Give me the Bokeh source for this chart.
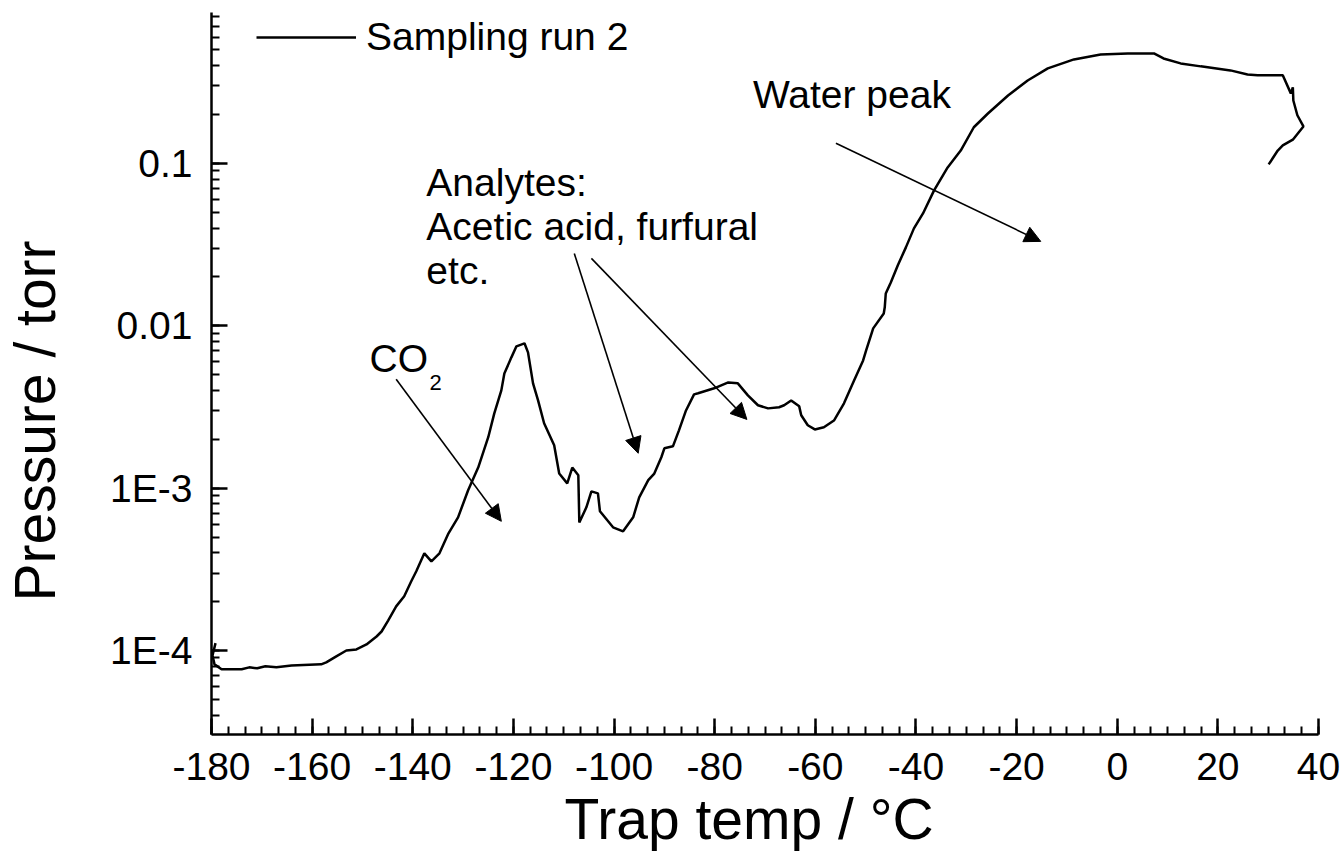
from bokeh.plotting import figure
from bokeh.models import (Range1d, LogTicker, SingleIntervalTicker, CustomJSTickFormatter,
                          Label, Arrow, NormalHead, Legend, LegendItem)
from bokeh.embed import file_html
from bokeh.resources import INLINE

# ---- data ----
temp = [-179.2, -179.8, -179.4, -178.0, -174.0, -172.5, -170.9, -169.3, -167.1, -164.1,
        -158.2, -157.2, -155.2, -153.2, -151.2, -149.2, -147.2, -146.2, -144.9, -143.3,
        -141.7, -140.3, -139.3, -137.7, -136.3, -134.7, -132.9, -131.0, -129.0, -127.0,
        -125.0, -123.8, -122.4, -121.8, -120.4, -119.4, -117.8, -117.1, -116.1, -115.1,
        -113.9, -111.9, -110.9, -109.3, -108.3, -107.1, -106.9, -105.5, -104.5, -103.2,
        -102.8, -100.2, -98.2, -96.2, -95.0, -93.2, -92.0, -90.6, -90.0, -88.3,
        -87.1, -85.7, -84.1, -83.3, -80.1, -77.3, -75.4, -73.4, -71.4, -69.4,
        -67.2, -66.2, -64.8, -63.2, -62.8, -61.5, -60.1, -58.3, -56.3, -54.3,
        -52.3, -50.5, -49.9, -48.5, -46.4, -46.2, -46.0, -45.0, -43.6, -42.0,
        -40.4, -38.6, -36.4, -33.7, -31.1, -28.5, -25.7, -21.7, -17.8, -13.8,
        -8.6, -3.3, 2.1, 7.3, 9.2, 12.6, 16.6, 22.5, 25.9, 27.9,
        32.9, 34.5, 34.9, 35.0, 35.8, 37.0, 34.9, 32.9, 31.9, 30.1]

pressure = [1.11e-4, 9.33e-5, 8.22e-5, 7.66e-5, 7.66e-5, 7.88e-5, 7.77e-5, 8.0e-5, 7.88e-5, 8.1e-5,
            8.22e-5, 8.46e-5, 9.21e-5, 1.0e-4, 1.016e-4, 1.09e-4, 1.22e-4, 1.31e-4, 1.53e-4, 1.87e-4,
            2.16e-4, 2.67e-4, 3.08e-4, 3.97e-4, 3.54e-4, 3.97e-4, 5.27e-4, 6.61e-4, 9.7e-4, 1.34e-3,
            2.06e-3, 2.89e-3, 4.0e-3, 5.09e-3, 6.39e-3, 7.47e-3, 7.8e-3, 6.86e-3, 4.42e-3, 3.47e-3,
            2.51e-3, 1.84e-3, 1.23e-3, 1.07e-3, 1.34e-3, 1.2e-3, 6.15e-4, 7.62e-4, 9.55e-4, 9.29e-4,
            7.2e-4, 5.74e-4, 5.42e-4, 6.61e-4, 8.78e-4, 1.12e-3, 1.23e-3, 1.55e-3, 1.76e-3, 1.81e-3,
            2.27e-3, 3.01e-3, 3.78e-3, 3.84e-3, 4.12e-3, 4.48e-3, 4.42e-3, 3.73e-3, 3.24e-3, 3.1e-3,
            3.15e-3, 3.24e-3, 3.47e-3, 3.19e-3, 2.81e-3, 2.44e-3, 2.30e-3, 2.37e-3, 2.61e-3, 3.33e-3,
            4.61e-3, 6.12e-3, 7.06e-3, 9.64e-3, 1.19e-2, 1.30e-2, 1.58e-2, 1.85e-2, 2.36e-2, 3.04e-2,
            3.98e-2, 4.92e-2, 6.82e-2, 9.45e-2, 0.120, 0.167, 0.203, 0.262, 0.324, 0.385,
            0.437, 0.469, 0.476, 0.476, 0.443, 0.413, 0.396, 0.374, 0.353, 0.349,
            0.349, 0.270, 0.294, 0.244, 0.198, 0.169, 0.140, 0.129, 0.120, 0.0986]

series_name = "Sampling run 2"
ytick_exponents = [-4, -3, -2, -1]
ytick_labels = ["1E-4", "1E-3", "0.01", "0.1"]
x_label = "Trap temp / \u00b0C"
y_label = "Pressure / torr"

FONT = "Liberation Sans"
NBSP = "\u00a0"

p = figure(width=1344, height=867, y_axis_type="log",
           x_range=Range1d(-180, 40), y_range=Range1d(3.04e-5, 0.85),
           output_backend="svg", toolbar_location=None,
           min_border_left=210, min_border_right=26, min_border_top=12, min_border_bottom=133)
p.grid.visible = False
p.outline_line_color = None
p.background_fill_color = "white"

r = p.line(temp, pressure, line_color="black", line_width=2.5)

# axes
p.xaxis.ticker = SingleIntervalTicker(interval=20, num_minor_ticks=6)
p.xaxis.formatter = CustomJSTickFormatter(code="return tick.toFixed(0);")
p.yaxis.ticker = LogTicker(num_minor_ticks=10)
p.yaxis.formatter = CustomJSTickFormatter(args=dict(exps=ytick_exponents, labels=ytick_labels), code="""
    const e = Math.round(Math.log10(tick));
    const i = exps.indexOf(e);
    return i >= 0 ? labels[i] : '';
""")
for ax in (p.xaxis[0], p.yaxis[0]):
    ax.axis_line_width = 2.5
    ax.axis_line_color = "black"
    ax.major_tick_in = 16
    ax.major_tick_out = 0
    ax.minor_tick_in = 8
    ax.minor_tick_out = 0
    ax.major_tick_line_width = 2.5
    ax.minor_tick_line_width = 2
    ax.major_label_text_font = FONT
    ax.major_label_text_font_size = "39px"
    ax.major_label_text_color = "black"
    ax.axis_label_text_font = FONT
    ax.axis_label_text_font_style = "normal"
    ax.axis_label_text_font_size = "57px"
    ax.axis_label_text_color = "black"

# the reference titles sit slightly off the frame centre; trailing no-break spaces shift them
p.xaxis.axis_label = x_label + NBSP * 2
p.yaxis.axis_label = y_label + NBSP * 6
p.xaxis.major_label_standoff = 18
p.yaxis.major_label_standoff = 19
p.xaxis.axis_label_standoff = 4
p.yaxis.axis_label_standoff = 40

# legend
legend = Legend(items=[LegendItem(label=series_name, renderers=[r])],
                location=(45, 675), glyph_width=100, glyph_height=20,
                label_standoff=10, label_text_font=FONT, label_text_font_size="39px",
                label_text_color="black",
                border_line_color=None, background_fill_alpha=0, padding=10, margin=0, spacing=0)
p.add_layout(legend)

# annotation texts
def text(x, y, s, size="39px"):
    p.add_layout(Label(x=x, y=y, text=s, text_font=FONT, text_font_size=size,
                       text_color="black", text_baseline="alphabetic", text_align="left"))

text(-72.4, 0.266, "Water peak")
text(-137.3, 0.0763, "Analytes:")
text(-137.3, 0.0410, "Acetic acid, furfural")
text(-137.3, 0.0219, "etc.")
text(-148.6, 6.29e-3, "CO")
text(-136.7, 4.5e-3, "2", size="22px")

# arrows
def arrow(x0, y0, x1, y1):
    p.add_layout(Arrow(end=NormalHead(size=16, fill_color="black", line_color="black", line_width=1),
                       x_start=x0, y_start=y0, x_end=x1, y_end=y1,
                       line_color="black", line_width=1.6))

arrow(-143.3, 4.68e-3, -122.4, 6.25e-4)
arrow(-107.9, 2.79e-2, -95.2, 1.64e-3)
arrow(-104.5, 2.6e-2, -73.6, 2.65e-3)
arrow(-55.9, 0.133, -15.2, 3.31e-2)

open("out.html", "w").write(file_html(p, INLINE))
